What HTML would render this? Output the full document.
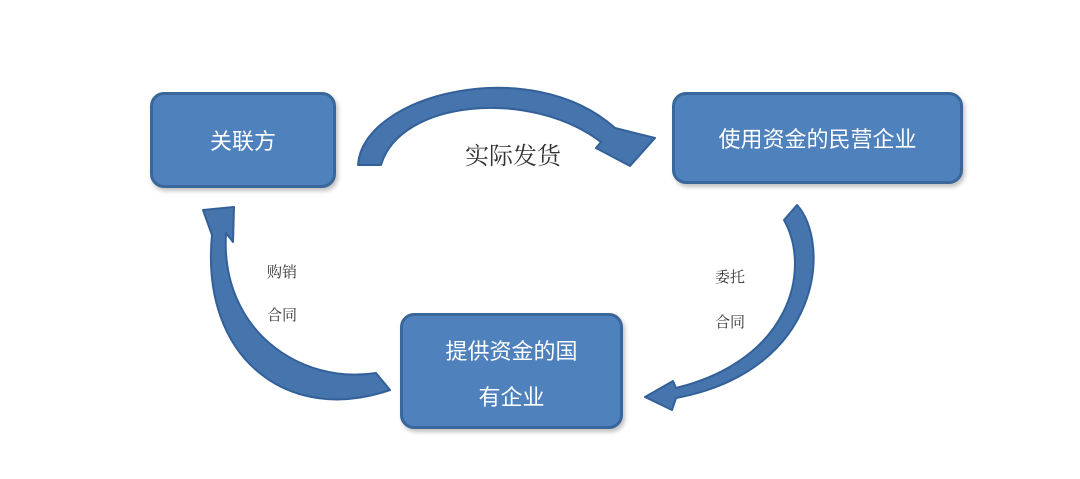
<!DOCTYPE html>
<html><head><meta charset="utf-8"><style>
body{margin:0;background:#fff;}
.w{position:relative;width:1080px;height:479px;overflow:hidden;font-family:"Liberation Sans","Noto Sans CJK SC",sans-serif;}
.b{position:absolute;background:#4f81bd;border:3px solid #3a679b;border-radius:14px;color:#fff;font-size:22px;display:flex;align-items:center;justify-content:center;text-align:center;box-sizing:border-box;box-shadow:2px 3px 4px rgba(0,0,0,0.25);}
.t{position:absolute;color:#333;font-family:"Liberation Serif","Noto Serif CJK SC",serif;}
</style></head><body><div class="w">
<svg width="1080" height="479" style="position:absolute;left:0;top:0">
<g fill="#4674ad" stroke="#34609a" stroke-width="2" stroke-linejoin="round">
<path d="M358,165 C362,95 530,52 615,128 L655,138 L630,166 L596,148 L601,142 C530,88 400,100 381,165 Z"/>
<path d="M390,390 C290,425 200,360 212,235 L203,210 L234,207 L233,242 L226,233 C220,330 300,385 376,373 Z"/>
<path d="M784,220 L797,205 C830,240 825,370 676,398 L672,410 L645,397 L673,381 L676,388 C790,360 812,270 784,220 Z"/>
</g>
</svg>
<div class="b" style="left:150px;top:92px;width:186px;height:96px;">关联方</div>
<div class="b" style="left:672px;top:92px;width:291px;height:92px;">使用资金的民营企业</div>
<div class="b" style="left:400px;top:313px;width:223px;height:116px;line-height:46px;padding-top:8px;">提供资金的国<br>有企业</div>
<div class="t" style="left:465px;top:136px;font-size:24px;">实际发货</div>
<div class="t" style="left:267px;top:261px;font-size:15px;">购销</div>
<div class="t" style="left:267px;top:304px;font-size:15px;">合同</div>
<div class="t" style="left:715px;top:266px;font-size:15px;">委托</div>
<div class="t" style="left:715px;top:311px;font-size:15px;">合同</div>
</div></body></html>
